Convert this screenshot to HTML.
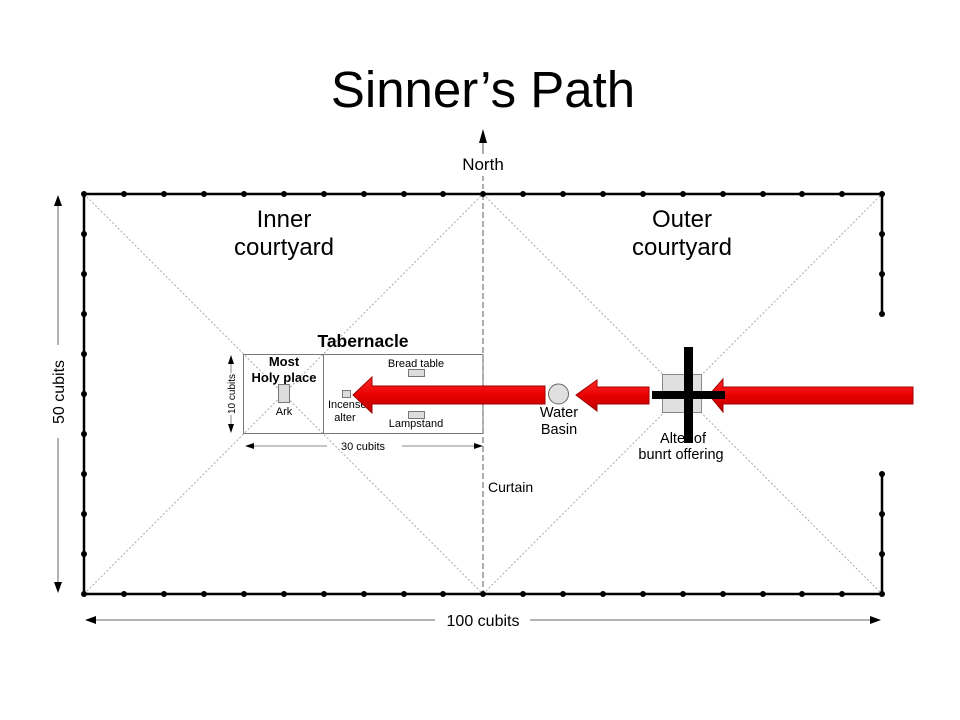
<!DOCTYPE html>
<html>
<head>
<meta charset="utf-8">
<style>
html,body{margin:0;padding:0;background:#fff;}
svg{display:block;}
text{font-family:"Liberation Sans",Arial,sans-serif;fill:#000;}
</style>
</head>
<body>
<svg width="960" height="720" viewBox="0 0 960 720" xmlns="http://www.w3.org/2000/svg">
<defs>
<linearGradient id="rg" x1="0" y1="0" x2="0" y2="1">
<stop offset="0" stop-color="#ff2a2a"/>
<stop offset="0.5" stop-color="#e80000"/>
<stop offset="1" stop-color="#b80000"/>
</linearGradient>
</defs>

<!-- Title -->
<text x="483" y="107" font-size="51" text-anchor="middle">Sinner’s Path</text>

<!-- North -->
<line x1="483" y1="140" x2="483" y2="154" stroke="#777" stroke-width="1.2"/>
<polygon points="483,129 479,143 487,143" fill="#000"/>
<text x="483" y="170" font-size="17" text-anchor="middle">North</text>
<line x1="483" y1="176" x2="483" y2="194" stroke="#777" stroke-width="1.2" stroke-dasharray="5,3"/>

<!-- diagonals -->
<g stroke="#aaa" stroke-width="1" stroke-dasharray="2,2" fill="none">
<line x1="84" y1="194" x2="483" y2="594"/>
<line x1="84" y1="594" x2="483" y2="194"/>
<line x1="483" y1="194" x2="882" y2="594"/>
<line x1="483" y1="594" x2="882" y2="194"/>
</g>

<!-- curtain -->
<line x1="483" y1="194" x2="483" y2="594" stroke="#777" stroke-width="1.2" stroke-dasharray="6,3"/>

<!-- fence -->
<g stroke="#000" stroke-width="2.5" fill="none">
<polyline points="882,314 882,194 84,194 84,594 882,594 882,474"/>
</g>
<g fill="#000" id="posts">
<!-- top & bottom -->
<circle cx="84" cy="194" r="3"/><circle cx="124" cy="194" r="3"/><circle cx="164" cy="194" r="3"/><circle cx="204" cy="194" r="3"/><circle cx="244" cy="194" r="3"/><circle cx="284" cy="194" r="3"/><circle cx="324" cy="194" r="3"/><circle cx="364" cy="194" r="3"/><circle cx="404" cy="194" r="3"/><circle cx="443" cy="194" r="3"/><circle cx="483" cy="194" r="3"/><circle cx="523" cy="194" r="3"/><circle cx="563" cy="194" r="3"/><circle cx="603" cy="194" r="3"/><circle cx="643" cy="194" r="3"/><circle cx="683" cy="194" r="3"/><circle cx="723" cy="194" r="3"/><circle cx="763" cy="194" r="3"/><circle cx="802" cy="194" r="3"/><circle cx="842" cy="194" r="3"/><circle cx="882" cy="194" r="3"/>
<circle cx="84" cy="594" r="3"/><circle cx="124" cy="594" r="3"/><circle cx="164" cy="594" r="3"/><circle cx="204" cy="594" r="3"/><circle cx="244" cy="594" r="3"/><circle cx="284" cy="594" r="3"/><circle cx="324" cy="594" r="3"/><circle cx="364" cy="594" r="3"/><circle cx="404" cy="594" r="3"/><circle cx="443" cy="594" r="3"/><circle cx="483" cy="594" r="3"/><circle cx="523" cy="594" r="3"/><circle cx="563" cy="594" r="3"/><circle cx="603" cy="594" r="3"/><circle cx="643" cy="594" r="3"/><circle cx="683" cy="594" r="3"/><circle cx="723" cy="594" r="3"/><circle cx="763" cy="594" r="3"/><circle cx="802" cy="594" r="3"/><circle cx="842" cy="594" r="3"/><circle cx="882" cy="594" r="3"/>
<!-- left -->
<circle cx="84" cy="234" r="3"/><circle cx="84" cy="274" r="3"/><circle cx="84" cy="314" r="3"/><circle cx="84" cy="354" r="3"/><circle cx="84" cy="394" r="3"/><circle cx="84" cy="434" r="3"/><circle cx="84" cy="474" r="3"/><circle cx="84" cy="514" r="3"/><circle cx="84" cy="554" r="3"/>
<!-- right -->
<circle cx="882" cy="234" r="3"/><circle cx="882" cy="274" r="3"/><circle cx="882" cy="314" r="3"/>
<circle cx="882" cy="474" r="3"/><circle cx="882" cy="514" r="3"/><circle cx="882" cy="554" r="3"/>
</g>

<!-- 50 cubits -->
<line x1="58" y1="205" x2="58" y2="345" stroke="#888" stroke-width="1.3"/>
<line x1="58" y1="438" x2="58" y2="583" stroke="#888" stroke-width="1.3"/>
<polygon points="58,195 54,206 62,206" fill="#000"/>
<polygon points="58,593 54,582 62,582" fill="#000"/>
<text x="0" y="0" font-size="16" text-anchor="middle" transform="translate(64,392) rotate(-90)">50 cubits</text>

<!-- 100 cubits -->
<line x1="96" y1="620" x2="435" y2="620" stroke="#888" stroke-width="1.3"/>
<line x1="530" y1="620" x2="870" y2="620" stroke="#888" stroke-width="1.3"/>
<polygon points="85,620 96,616 96,624" fill="#000"/>
<polygon points="881,620 870,616 870,624" fill="#000"/>
<text x="483" y="626" font-size="16" text-anchor="middle">100 cubits</text>

<!-- courtyard labels -->
<text x="284" y="227" font-size="24" text-anchor="middle">Inner</text>
<text x="284" y="255" font-size="24" text-anchor="middle">courtyard</text>
<text x="682" y="227" font-size="24" text-anchor="middle">Outer</text>
<text x="682" y="255" font-size="24" text-anchor="middle">courtyard</text>

<!-- Tabernacle -->
<text x="363" y="347" font-size="17.5" font-weight="bold" text-anchor="middle">Tabernacle</text>
<rect x="243.5" y="354.5" width="239.5" height="79" fill="none" stroke="#777" stroke-width="1"/>
<line x1="323.5" y1="354" x2="323.5" y2="434" stroke="#777" stroke-width="1"/>
<text x="284" y="366" font-size="13" font-weight="bold" text-anchor="middle">Most</text>
<text x="284" y="382" font-size="13" font-weight="bold" text-anchor="middle">Holy place</text>
<rect x="278.5" y="384.5" width="11" height="18" fill="#ddd" stroke="#777" stroke-width="1"/>
<text x="284" y="415" font-size="11" text-anchor="middle">Ark</text>
<text x="416" y="367" font-size="11" text-anchor="middle">Bread table</text>
<rect x="408.5" y="369.5" width="16" height="7" fill="#ddd" stroke="#777" stroke-width="1"/>
<rect x="408.5" y="411.5" width="16" height="7" fill="#ddd" stroke="#777" stroke-width="1"/>
<text x="416" y="427" font-size="11" text-anchor="middle">Lampstand</text>
<rect x="342.5" y="390.5" width="8" height="7" fill="#ddd" stroke="#777" stroke-width="1"/>
<text x="328" y="408" font-size="11">Incense</text>
<text x="345" y="421" font-size="11" text-anchor="middle">alter</text>

<!-- 10 cubits -->
<line x1="231" y1="364" x2="231" y2="373" stroke="#888" stroke-width="1"/>
<line x1="231" y1="415" x2="231" y2="424" stroke="#888" stroke-width="1"/>
<polygon points="231,355 228,364 234,364" fill="#000"/>
<polygon points="231,433 228,424 234,424" fill="#000"/>
<text x="0" y="0" font-size="10" text-anchor="middle" transform="translate(235,394) rotate(-90)">10 cubits</text>

<!-- 30 cubits -->
<line x1="253" y1="446" x2="327" y2="446" stroke="#888" stroke-width="1"/>
<line x1="402" y1="446" x2="474" y2="446" stroke="#888" stroke-width="1"/>
<polygon points="245,446 254,443 254,449" fill="#000"/>
<polygon points="483,446 474,443 474,449" fill="#000"/>
<text x="363" y="450" font-size="11" text-anchor="middle">30 cubits</text>

<!-- Curtain label -->
<text x="488" y="492" font-size="14">Curtain</text>

<!-- Water basin -->
<circle cx="558.5" cy="394" r="10" fill="#e0e0e0" stroke="#666" stroke-width="1"/>
<text x="559" y="417" font-size="14.5" text-anchor="middle">Water</text>
<text x="559" y="434" font-size="14.5" text-anchor="middle">Basin</text>

<!-- Alter -->
<rect x="662.5" y="374.5" width="39" height="38" fill="#e0e0e0" stroke="#888" stroke-width="1"/>
<text x="683" y="443" font-size="14.5" text-anchor="middle">Alter of</text>
<text x="681" y="459" font-size="14.5" text-anchor="middle">bunrt offering</text>

<!-- red arrows -->
<g fill="url(#rg)" stroke="#a00000" stroke-width="1">
<polygon points="353,395 372,377 372,386 545,386 545,404 372,404 372,413"/>
<polygon points="576,395 597,380 597,387 649,387 649,404 597,404 597,411"/>
<polygon points="709,395 723,379 723,387 913,387 913,404 723,404 723,412"/>
</g>

<!-- cross -->
<rect x="684" y="347" width="9" height="96" fill="#000"/>
<rect x="652" y="391" width="73" height="8" fill="#000"/>
</svg>
</body>
</html>
